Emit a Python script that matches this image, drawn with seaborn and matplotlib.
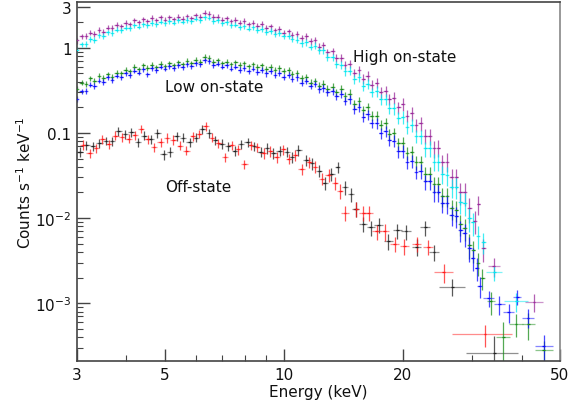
import numpy as np
import pandas as pd
import matplotlib
matplotlib.use("Agg")
import matplotlib.pyplot as plt
import seaborn as sns
from matplotlib.ticker import FixedLocator, FixedFormatter, LogLocator, NullFormatter

# ---------------- data ----------------
# shared energy grid of the finely binned on-state spectra (keV)
energy_on = [3.00, 3.08, 3.16, 3.24, 3.32, 3.41, 3.50, 3.59, 3.68, 3.78,
             3.88, 3.98, 4.08, 4.19, 4.30, 4.41, 4.52, 4.64, 4.76, 4.88,
             5.01, 5.14, 5.27, 5.41, 5.55, 5.69, 5.84, 5.99, 6.15, 6.31,
             6.47, 6.64, 6.81, 6.99, 7.17, 7.36, 7.55, 7.74, 7.94, 8.15,
             8.36, 8.58, 8.80, 9.03, 9.27, 9.51, 9.75, 10.0, 10.3, 10.5,
             10.8, 11.1, 11.4, 11.7, 12.0, 12.3, 12.6, 12.9, 13.3, 13.6,
             14.0, 14.3, 14.7, 15.1, 15.5, 15.9, 16.3, 16.7, 17.2, 17.6,
             18.1, 18.5, 19.0, 19.5, 20.0, 20.5, 21.1, 21.6, 22.2, 22.8,
             23.4, 24.0, 24.6, 25.2, 25.9, 26.6, 27.3, 28.0, 28.7, 29.5]

high_a = [1.22, 1.36, 1.37, 1.50, 1.47, 1.62, 1.55, 1.73, 1.70, 1.86,
          1.80, 1.96, 1.90, 2.10, 2.00, 2.17, 2.06, 2.24, 2.12, 2.27,
          2.14, 2.29, 2.17, 2.31, 2.20, 2.34, 2.22, 2.40, 2.33, 2.58,
          2.52, 2.30, 2.33, 2.14, 2.22, 2.04, 2.13, 1.97, 2.07, 1.90,
          1.97, 1.82, 1.89, 1.71, 1.78, 1.60, 1.66, 1.51, 1.56, 1.41,
          1.46, 1.31, 1.36, 1.19, 1.22, 1.03, 1.07, 0.89, 0.91, 0.76,
          0.76, 0.63, 0.65, 0.51, 0.55, 0.43, 0.47, 0.37, 0.39, 0.30,
          0.31, 0.25, 0.26, 0.20, 0.22, 0.16, 0.17, 0.125, 0.13, 0.092,
          0.092, 0.066, 0.067, 0.045, 0.046, 0.030, 0.030, 0.020, 0.020, 0.013]

high_b = [0.94, 1.10, 1.12, 1.27, 1.25, 1.40, 1.38, 1.52, 1.50, 1.63,
          1.60, 1.72, 1.69, 1.83, 1.77, 1.90, 1.85, 1.96, 1.90, 2.02,
          1.94, 2.06, 1.98, 2.10, 2.02, 2.13, 2.06, 2.19, 2.13, 2.28,
          2.25, 2.07, 2.10, 1.95, 1.99, 1.84, 1.87, 1.74, 1.79, 1.68,
          1.74, 1.62, 1.66, 1.53, 1.57, 1.45, 1.49, 1.38, 1.39, 1.26,
          1.25, 1.13, 1.16, 1.03, 1.06, 0.93, 0.94, 0.78, 0.77, 0.64,
          0.63, 0.53, 0.54, 0.43, 0.45, 0.36, 0.38, 0.30, 0.31, 0.25,
          0.25, 0.195, 0.195, 0.150, 0.155, 0.118, 0.124, 0.092, 0.091, 0.066,
          0.066, 0.046, 0.046, 0.033, 0.032, 0.023, 0.023, 0.0155, 0.0150, 0.0100]

low_a = [0.33, 0.39, 0.38, 0.44, 0.41, 0.47, 0.44, 0.49, 0.46, 0.51,
         0.50, 0.55, 0.53, 0.60, 0.56, 0.62, 0.58, 0.63, 0.59, 0.65,
         0.61, 0.66, 0.62, 0.68, 0.64, 0.70, 0.66, 0.72, 0.69, 0.78,
         0.76, 0.69, 0.71, 0.66, 0.69, 0.64, 0.68, 0.63, 0.66, 0.61,
         0.64, 0.59, 0.62, 0.57, 0.60, 0.55, 0.58, 0.53, 0.55, 0.49,
         0.51, 0.44, 0.45, 0.39, 0.41, 0.36, 0.38, 0.33, 0.35, 0.30,
         0.33, 0.27, 0.29, 0.22, 0.235, 0.185, 0.20, 0.16, 0.16, 0.125,
         0.13, 0.098, 0.099, 0.076, 0.077, 0.058, 0.059, 0.045, 0.045, 0.033,
         0.033, 0.025, 0.025, 0.018, 0.018, 0.013, 0.0125, 0.0085, 0.0076, 0.0049]

low_b = [0.25, 0.31, 0.31, 0.37, 0.36, 0.41, 0.40, 0.45, 0.42, 0.47,
         0.45, 0.50, 0.48, 0.54, 0.51, 0.56, 0.49, 0.58, 0.55, 0.60,
         0.57, 0.61, 0.58, 0.62, 0.59, 0.64, 0.61, 0.66, 0.64, 0.71,
         0.70, 0.63, 0.65, 0.60, 0.62, 0.57, 0.60, 0.55, 0.58, 0.53,
         0.57, 0.52, 0.55, 0.50, 0.53, 0.48, 0.51, 0.46, 0.48, 0.43,
         0.45, 0.39, 0.41, 0.36, 0.38, 0.33, 0.34, 0.30, 0.31, 0.27,
         0.29, 0.24, 0.25, 0.19, 0.20, 0.155, 0.165, 0.13, 0.13, 0.10,
         0.105, 0.082, 0.081, 0.061, 0.061, 0.046, 0.047, 0.035, 0.036, 0.027,
         0.027, 0.020, 0.020, 0.015, 0.015, 0.011, 0.0105, 0.0072, 0.0066, 0.0045]

rel_err_on = [0.08, 0.07, 0.08, 0.07, 0.08, 0.07, 0.08, 0.07, 0.08, 0.07,
              0.07, 0.07, 0.07, 0.07, 0.07, 0.07, 0.07, 0.07, 0.07, 0.07,
              0.07, 0.07, 0.07, 0.07, 0.07, 0.07, 0.07, 0.07, 0.07, 0.07,
              0.07, 0.07, 0.07, 0.07, 0.07, 0.07, 0.07, 0.07, 0.07, 0.07,
              0.07, 0.08, 0.08, 0.08, 0.08, 0.08, 0.08, 0.08, 0.08, 0.08,
              0.09, 0.09, 0.09, 0.09, 0.09, 0.10, 0.10, 0.10, 0.10, 0.10,
              0.11, 0.11, 0.12, 0.12, 0.12, 0.13, 0.13, 0.13, 0.14, 0.14,
              0.15, 0.15, 0.16, 0.16, 0.17, 0.17, 0.18, 0.18, 0.19, 0.20,
              0.21, 0.22, 0.23, 0.24, 0.25, 0.26, 0.27, 0.28, 0.30, 0.32]

# sparse high-energy bins of the on-state spectra
high_a_tail_E = [30.4, 31.1, 32.0, 34.0, 43.0]
high_a_tail_dE = [0.35, 0.35, 0.5, 1.15, 2.3]
high_a_tail_y = [0.0093, 0.0146, 0.0044, 0.00275, 0.00104]
high_a_tail_rel = [0.3, 0.25, 0.3, 0.25, 0.25]

high_b_tail_E = [30.1, 31.0, 32.0, 34.1, 38.8]
high_b_tail_dE = [0.35, 0.4, 0.5, 1.6, 2.8]
high_b_tail_y = [0.0089, 0.0062, 0.0052, 0.0023, 0.00105]
high_b_tail_rel = [0.3, 0.3, 0.28, 0.2, 0.25]

low_a_tail_E = [30.2, 31.0, 31.8, 33.4, 35.9, 38.7, 41.6, 45.5]
low_a_tail_dE = [0.35, 0.4, 0.5, 0.8, 1.45, 1.65, 1.5, 2.4]
low_a_tail_y = [0.0042, 0.0030, 0.0020, 0.00105, 0.00040, 0.00057, 0.00057, 0.00028]
low_a_tail_rel = [0.3, 0.3, 0.28, 0.3, 0.5, 0.3, 0.35, 0.3]

low_b_tail_E = [30.1, 30.8, 31.3, 33.0, 35.1, 37.1, 39.0, 41.5, 45.5]
low_b_tail_dE = [0.35, 0.35, 0.45, 1.0, 1.1, 1.15, 0.9, 1.45, 2.4]
low_b_tail_y = [0.0034, 0.0026, 0.0016, 0.00115, 0.00097, 0.00078, 0.0012, 0.00068, 0.000315]
low_b_tail_rel = [0.3, 0.3, 0.28, 0.22, 0.25, 0.25, 0.2, 0.25, 0.35]

# off-state spectra
off_a_E = [3.05, 3.17, 3.29, 3.42, 3.55, 3.68, 3.82, 3.97, 4.12, 4.28,
           4.44, 4.61, 4.79, 4.97, 5.16, 5.36, 5.56, 5.78, 6.00, 6.23,
           6.47, 6.71, 6.97, 7.24, 7.52, 7.80, 8.10, 8.41, 8.74, 9.07,
           9.42, 9.78, 10.2, 10.5, 10.9, 11.4, 11.8, 12.3, 12.7, 13.2]
off_a_y = [0.060, 0.072, 0.070, 0.076, 0.081, 0.080, 0.105, 0.097, 0.102, 0.078,
           0.093, 0.085, 0.100, 0.056, 0.060, 0.092, 0.088, 0.078, 0.088, 0.110,
           0.100, 0.082, 0.075, 0.070, 0.062, 0.074, 0.078, 0.070, 0.060, 0.066,
           0.058, 0.062, 0.060, 0.052, 0.063, 0.048, 0.044, 0.036, 0.026, 0.033]

off_b_E = [3.11, 3.23, 3.35, 3.48, 3.61, 3.75, 3.90, 4.05, 4.20, 4.36,
           4.53, 4.70, 4.88, 5.07, 5.26, 5.46, 5.67, 5.89, 6.11, 6.35,
           6.59, 6.84, 7.10, 7.38, 7.66, 7.95, 8.26, 8.57, 8.90, 9.24,
           9.60, 9.97, 10.3, 10.7, 11.1, 11.6, 12.0, 12.5, 13.0, 13.5]
off_b_y = [0.073, 0.058, 0.066, 0.085, 0.074, 0.093, 0.090, 0.086, 0.095, 0.112,
           0.085, 0.068, 0.078, 0.088, 0.083, 0.071, 0.062, 0.092, 0.098, 0.120,
           0.088, 0.076, 0.052, 0.072, 0.064, 0.043, 0.072, 0.068, 0.058, 0.061,
           0.052, 0.064, 0.050, 0.055, 0.038, 0.046, 0.040, 0.029, 0.032, 0.026]

rel_err_off = [0.13, 0.12, 0.13, 0.12, 0.12, 0.12, 0.12, 0.12, 0.12, 0.12,
               0.12, 0.12, 0.12, 0.13, 0.13, 0.12, 0.12, 0.12, 0.12, 0.12,
               0.12, 0.12, 0.13, 0.13, 0.13, 0.13, 0.13, 0.13, 0.14, 0.14,
               0.14, 0.14, 0.14, 0.15, 0.15, 0.15, 0.16, 0.16, 0.17, 0.17]

off_a_tail_E = [13.7, 14.3, 14.8, 15.2, 15.9, 16.6, 17.4, 18.4, 19.4, 20.4, 21.7, 22.8, 24.0, 26.7, 34.1]
off_a_tail_dE = [0.2, 0.25, 0.25, 0.3, 0.35, 0.4, 0.45, 0.5, 0.5, 0.55, 0.6, 0.65, 0.75, 2.0, 5.1]
off_a_tail_y = [0.040, 0.023, 0.019, 0.0128, 0.0085, 0.0078, 0.0083, 0.0054, 0.0072, 0.0070,
                0.0046, 0.0078, 0.0040, 0.00156, 0.00026]
off_a_tail_rel = [0.15, 0.18, 0.18, 0.2, 0.2, 0.2, 0.2, 0.22, 0.2, 0.2, 0.22, 0.2, 0.22, 0.22, 0.6]

off_b_tail_E = [13.9, 14.3, 15.25, 15.9, 16.4, 17.2, 18.0, 19.1, 20.2, 21.7, 23.2, 25.4, 32.3]
off_b_tail_dE = [0.25, 0.3, 0.3, 0.35, 0.4, 0.45, 0.5, 0.5, 0.55, 0.6, 0.65, 1.45, 5.6]
off_b_tail_y = [0.021, 0.0115, 0.0128, 0.0115, 0.0115, 0.0070, 0.0070, 0.0050, 0.0047, 0.0050,
                0.0046, 0.0023, 0.00043]
off_b_tail_rel = [0.2, 0.2, 0.2, 0.2, 0.2, 0.2, 0.22, 0.2, 0.22, 0.2, 0.2, 0.25, 0.28]

x_ticks = [3, 5, 10, 20, 50]
x_tick_labels = ["3", "5", "10", "20", "50"]
y_ticks = [1e-3, 1e-2, 0.1, 1, 3]
y_tick_labels = ["$10^{-3}$", "$10^{-2}$", "0.1", "1", "3"]

# ---------------- build tables ----------------
def series(name, E, y, rel, tE, tdE, ty, trel):
    E = np.asarray(E, float)
    half = np.gradient(E) / 2.0
    d1 = pd.DataFrame({"E": E, "dE": half, "y": y, "rel": rel})
    d2 = pd.DataFrame({"E": tE, "dE": tdE, "y": ty, "rel": trel})
    d = pd.concat([d1, d2], ignore_index=True)
    d["dy"] = d["y"] * d["rel"]
    d["series"] = name
    return d

frames = [
    series("off_a", off_a_E, off_a_y, rel_err_off, off_a_tail_E, off_a_tail_dE, off_a_tail_y, off_a_tail_rel),
    series("off_b", off_b_E, off_b_y, rel_err_off, off_b_tail_E, off_b_tail_dE, off_b_tail_y, off_b_tail_rel),
    series("high_a", energy_on, high_a, rel_err_on, high_a_tail_E, high_a_tail_dE, high_a_tail_y, high_a_tail_rel),
    series("high_b", energy_on, high_b, rel_err_on, high_b_tail_E, high_b_tail_dE, high_b_tail_y, high_b_tail_rel),
    series("low_a", energy_on, low_a, rel_err_on, low_a_tail_E, low_a_tail_dE, low_a_tail_y, low_a_tail_rel),
    series("low_b", energy_on, low_b, rel_err_on, low_b_tail_E, low_b_tail_dE, low_b_tail_y, low_b_tail_rel),
]
df = pd.concat(frames, ignore_index=True)

palette = {"off_a": "#222222", "off_b": "#ff1a1a", "high_a": "#9a2a9a",
           "high_b": "#00e8f0", "low_a": "#1a8c1a", "low_b": "#0a0aff"}

# ---------------- plot ----------------
sns.set_theme(style="ticks")
plt.rcParams["font.family"] = ["DejaVu Sans"]
plt.rcParams["mathtext.fontset"] = "dejavusans"

fig = plt.figure(figsize=(5.81, 4.06), dpi=100)
ax = fig.add_axes([77 / 581, 1 - 362 / 406, (560 - 77) / 581, (362 - 3) / 406])
ax.set_xscale("log")
ax.set_yscale("log")

for name, d in df.groupby("series", sort=False):
    ax.errorbar(d["E"], d["y"], xerr=d["dE"], fmt="none",
                ecolor=palette[name], elinewidth=0.9, alpha=0.5, capsize=0)
    ax.errorbar(d["E"], d["y"], yerr=d["dy"], fmt="none",
                ecolor=palette[name], elinewidth=0.9, alpha=0.75, capsize=0)
sns.scatterplot(data=df, x="E", y="y", hue="series", palette=palette,
                marker="_", s=4, linewidth=0.9, legend=False, ax=ax, zorder=3)

ax.set_xlim(3, 50)
ax.set_ylim(2.1e-4, 3.45)

ax.xaxis.set_major_locator(FixedLocator(x_ticks))
ax.xaxis.set_major_formatter(FixedFormatter(x_tick_labels))
ax.xaxis.set_minor_locator(FixedLocator([4, 6, 7, 8, 9, 30, 40]))
ax.xaxis.set_minor_formatter(NullFormatter())
ax.yaxis.set_major_locator(FixedLocator(y_ticks))
ax.yaxis.set_major_formatter(FixedFormatter(y_tick_labels))
ax.yaxis.set_minor_locator(LogLocator(base=10, subs=np.arange(2, 10), numticks=20))
ax.yaxis.set_minor_formatter(NullFormatter())

ax.tick_params(which="major", direction="in", length=9, width=1.0, color="#444444",
               labelsize=11, labelcolor="#111111", top=False, right=False, pad=4)
ax.tick_params(which="minor", direction="in", length=4, width=0.8, color="#444444",
               top=False, right=False)

for side, sp in ax.spines.items():
    sp.set_visible(True)
    sp.set_linewidth(1.2)
    sp.set_color("#444444" if side in ("left", "bottom", "top") else "#888888")

ax.set_xlabel("Energy (keV)", fontsize=11, labelpad=2, color="#111111")
ax.set_ylabel("Counts s$^{-1}$ keV$^{-1}$", fontsize=11, labelpad=1, color="#111111")

ax.text(15.0, 0.80, "High on-state", fontsize=11, ha="left", va="center", color="#111111")
ax.text(5.0, 0.348, "Low on-state", fontsize=11, ha="left", va="center", color="#111111")
ax.text(5.0, 0.0238, "Off-state", fontsize=11, ha="left", va="center", color="#111111")

fig.savefig("out.png", dpi=100)
